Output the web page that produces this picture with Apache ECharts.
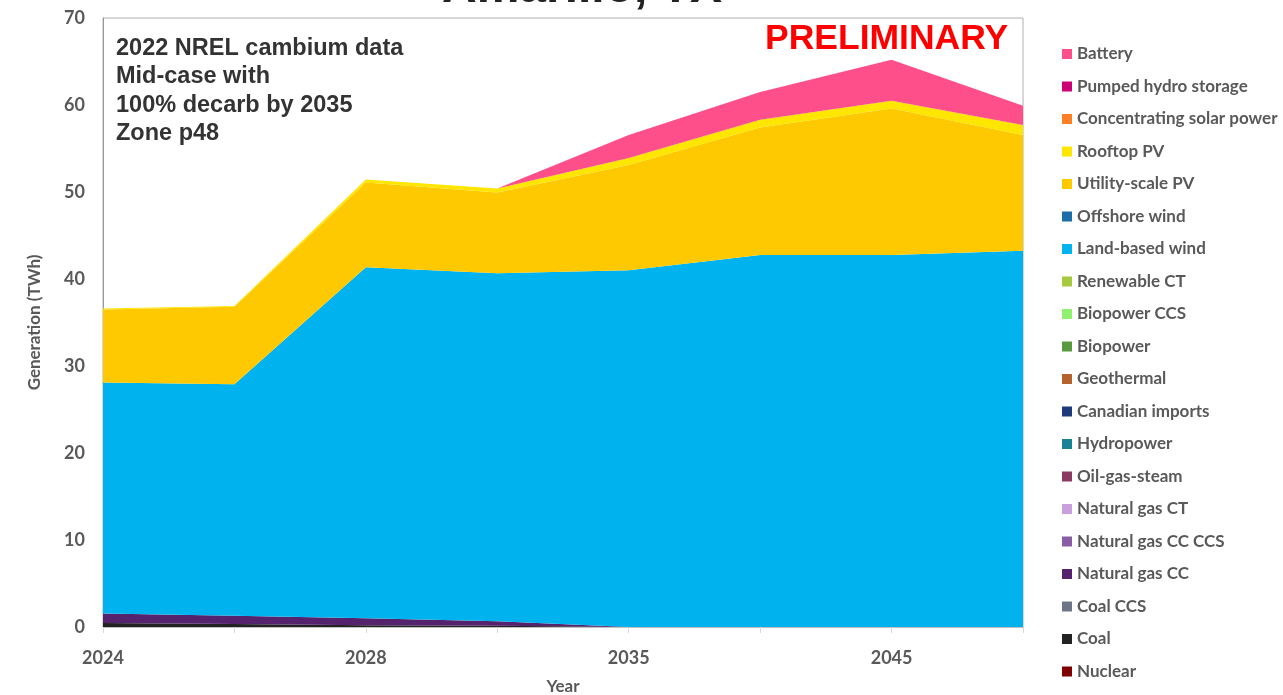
<!DOCTYPE html>
<html>
<head>
<meta charset="utf-8">
<script src="https://cdn.jsdelivr.net/npm/echarts@6/dist/echarts.min.js"></script>
<style>
html,body{margin:0;padding:0;background:#fff;}
#chart{width:1283px;height:695px;}
</style>
</head>
<body>
<div id="chart"></div>
<script>
// Categories (years)
const years = ['2024', '2026', '2028', '2030', '2035', '2040', '2045', '2050'];
const yTicks = [0, 10, 20, 30, 40, 50, 60, 70];

// Series values (TWh), bottom of stack first
const nuclear        = [0, 0, 0, 0, 0, 0, 0, 0];
const coal           = [0.45, 0.35, 0.2, 0.15, 0, 0, 0, 0];
const coalCCS        = [0, 0, 0, 0, 0, 0, 0, 0];
const ngCC           = [1.1, 0.95, 0.8, 0.5, 0, 0, 0, 0];
const ngCCCCS        = [0, 0, 0, 0, 0, 0, 0, 0];
const ngCT           = [0, 0, 0, 0, 0, 0, 0, 0];
const oilGasSteam    = [0, 0, 0, 0, 0, 0, 0, 0];
const hydropower     = [0, 0, 0, 0, 0, 0, 0, 0];
const canadian       = [0, 0, 0, 0, 0, 0, 0, 0];
const geothermal     = [0, 0, 0, 0, 0, 0, 0, 0];
const biopower       = [0, 0, 0, 0, 0, 0, 0, 0];
const biopowerCCS    = [0, 0, 0, 0, 0, 0, 0, 0];
const renewableCT    = [0, 0, 0, 0, 0, 0, 0, 0];
const landWind       = [26.55, 26.6, 40.35, 40.0, 41.0, 42.76, 42.76, 43.25];
const offshoreWind   = [0, 0, 0, 0, 0, 0, 0, 0];
const utilityPV      = [8.4, 8.9, 9.75, 9.3, 12.1, 14.64, 16.84, 13.3];
const rooftopPV      = [0.1, 0.1, 0.35, 0.45, 0.8, 0.9, 0.9, 1.15];
const csp            = [0, 0, 0, 0, 0, 0, 0, 0];
const pumpedHydro    = [0, 0, 0, 0, 0, 0, 0, 0];
const battery        = [0, 0, 0, 0, 2.65, 3.2, 4.7, 2.2];

const seriesDefs = [
  ['Nuclear', nuclear, '#7F0000'],
  ['Coal', coal, '#222222'],
  ['Coal CCS', coalCCS, '#6E7587'],
  ['Natural gas CC', ngCC, '#55226E'],
  ['Natural gas CC CCS', ngCCCCS, '#8A5EA6'],
  ['Natural gas CT', ngCT, '#C9A0DC'],
  ['Oil-gas-steam', oilGasSteam, '#8B3A62'],
  ['Hydropower', hydropower, '#1A8296'],
  ['Canadian imports', canadian, '#1F3A7A'],
  ['Geothermal', geothermal, '#B5632E'],
  ['Biopower', biopower, '#5A9A3E'],
  ['Biopower CCS', biopowerCCS, '#90F070'],
  ['Renewable CT', renewableCT, '#A7C940'],
  ['Land-based wind', landWind, '#00B3EE'],
  ['Offshore wind', offshoreWind, '#1B6EA8'],
  ['Utility-scale PV', utilityPV, '#FEC901'],
  ['Rooftop PV', rooftopPV, '#FFE600'],
  ['Concentrating solar power', csp, '#FF7F27'],
  ['Pumped hydro storage', pumpedHydro, '#CC0077'],
  ['Battery', battery, '#FF4F8B']
];

const chart = echarts.init(document.getElementById('chart'), null, {renderer: 'canvas'});

const series = seriesDefs.map(([name, data, color]) => ({
  name: name,
  type: 'line',
  stack: 'gen',
  data: data,
  symbol: 'none',
  showSymbol: false,
  lineStyle: {width: 0, color: color},
  itemStyle: {color: color},
  areaStyle: {color: color, opacity: 1},
  emphasis: {disabled: true},
  silent: true
}));

const legendOrder = seriesDefs.map(d => d[0]).reverse();

chart.setOption({
  animation: false,
  backgroundColor: '#ffffff',
  grid: {
    left: 103, right: 260, top: 18, bottom: 68,
    containLabel: false,
    outerBoundsMode: 'none',
    show: true, borderColor: '#b0b0b0', borderWidth: 1, backgroundColor: 'transparent'
  },
  legend: {
    orient: 'vertical',
    left: 1057,
    top: 40,
    data: legendOrder,
    icon: 'rect',
    itemWidth: 10,
    itemHeight: 10,
    itemGap: 14.5,
    textStyle: {fontFamily: 'Lato', fontWeight: 'bold', fontSize: 17, color: '#595959', lineHeight: 18},
    selectedMode: false
  },
  xAxis: {
    type: 'category',
    data: years,
    boundaryGap: false,
    name: 'Year',
    nameLocation: 'middle',
    nameGap: 51,
    nameTextStyle: {fontFamily: 'Lato', fontWeight: 'bold', fontSize: 17, color: '#595959'},
    axisLine: {lineStyle: {color: '#bfbfbf', width: 1}},
    axisTick: {show: true, alignWithLabel: true, interval: 0, length: 6, lineStyle: {color: '#d9d9d9'}},
    axisLabel: {interval: 1, margin: 22, fontFamily: 'Lato', fontWeight: 'bold', fontSize: 18, color: '#595959'},
    splitLine: {show: false}
  },
  yAxis: {
    type: 'value',
    min: yTicks[0],
    max: yTicks[yTicks.length - 1],
    interval: 10,
    name: 'Generation (TWh)',
    nameLocation: 'middle',
    nameGap: 60,
    nameRotate: 90,
    nameTextStyle: {fontFamily: 'Lato', fontWeight: 'bold', fontSize: 17, color: '#595959'},
    axisLine: {show: true, lineStyle: {color: '#999999', width: 1}},
    axisTick: {show: false},
    axisLabel: {margin: 18, fontFamily: 'Lato', fontWeight: 'bold', fontSize: 18, color: '#595959'},
    splitLine: {show: false}
  },
  graphic: [
    {
      type: 'text',
      x: 582, y: 13,
      style: {
        text: 'Amarillo, TX',
        textAlign: 'center', textVerticalAlign: 'bottom',
        fontFamily: 'Liberation Sans, Arial', fontWeight: 'bold', fontSize: 48, fill: '#222222'
      }
    },
    {
      type: 'text', left: 116, top: 34,
      style: {
        text: '2022 NREL cambium data\nMid-case with\n100% decarb by 2035\nZone p48',
        fontFamily: 'Liberation Sans, Arial', fontWeight: 'bold', fontSize: 23.5, lineHeight: 28.5, fill: '#333333'
      }
    },
    {
      type: 'text', left: 765, top: 21,
      style: {
        text: 'PRELIMINARY',
        fontFamily: 'Liberation Sans, Arial', fontWeight: 'bold', fontSize: 35.5, fill: '#ff0000'
      }
    }
  ],
  series: series
});
</script>
</body>
</html>
